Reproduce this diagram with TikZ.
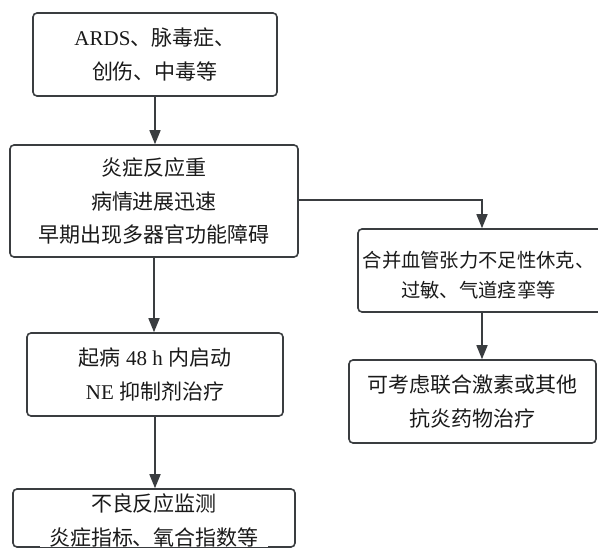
\documentclass[tikz,border=0pt]{standalone}
\usepackage{fontspec}
\setmainfont{Liberation Serif}
\newfontfamily\cjk{Noto Sans CJK SC}
\usetikzlibrary{arrows.meta}
\definecolor{edge}{HTML}{3A3D40}
\definecolor{ink}{HTML}{1A1A1A}
\tikzset{
  box/.style={draw=edge, line width=1.6pt, rounded corners=4pt, fill=white,
    inner sep=0pt, align=center, text=ink,
    font=\fontsize{21}{33.5}\selectfont},
  txt/.style={inner sep=0pt, align=center, text=ink,
    font=\fontsize{21}{33.5}\selectfont},
  conn/.style={draw=edge, line width=1.6pt,
    -{Triangle[length=14pt,width=11pt]}}
}
\begin{document}
\begin{tikzpicture}[x=1pt,y=-1pt]
\useasboundingbox (0,0) rectangle (598,549);
\fill[white] (0,0) rectangle (598,549);

\node[box, minimum width=244pt, minimum height=83pt] (b1) at (155,54.5)
  {ARDS{\cjk 、脉毒症、}\\{\cjk 创伤、中毒等}};
\node[box, minimum width=288pt, minimum height=112pt] (b2) at (154,201)
  {{\cjk 炎症反应重}\\{\cjk 病情进展迅速}\\{\cjk 早期出现多器官功能障碍}};
\node[box, minimum width=248pt, minimum height=83pt] (b3) at (482,270.5) {};
\node[txt, font=\fontsize{19.3}{30}\selectfont] (b3t) at (478.5,275)
  {{\cjk 合并血管张力不足性休克、}\\{\cjk 过敏、气道痉挛等}};
\node[box, minimum width=247pt, minimum height=83pt] (b4) at (472.5,401.5)
  {{\cjk 可考虑联合激素或其他}\\{\cjk 抗炎药物治疗}};
\node[box, minimum width=256pt, minimum height=83pt] (b5) at (155,374.5)
  {{\cjk 起病} 48 h {\cjk 内启动}\\NE {\cjk 抑制剂治疗}};
\node[box, minimum width=282pt, minimum height=58pt] (b6) at (154,518) {};
\node[txt, fill=white, inner xsep=9pt] (b6t) at (154,520.5)
  {{\cjk 不良反应监测}\\{\cjk 炎症指标、氧合指数等}};

\draw[conn] (b1.south) -- (b1.south |- b2.north);
\draw[conn] (b2.east |- 0,200) -| (b3.north);
\draw[conn] (b2.south) -- (b2.south |- b5.north);
\draw[conn] (b3.south) -- (b3.south |- b4.north);
\draw[conn] (b5.south) -- (b5.south |- b6.north);
\end{tikzpicture}
\end{document}
